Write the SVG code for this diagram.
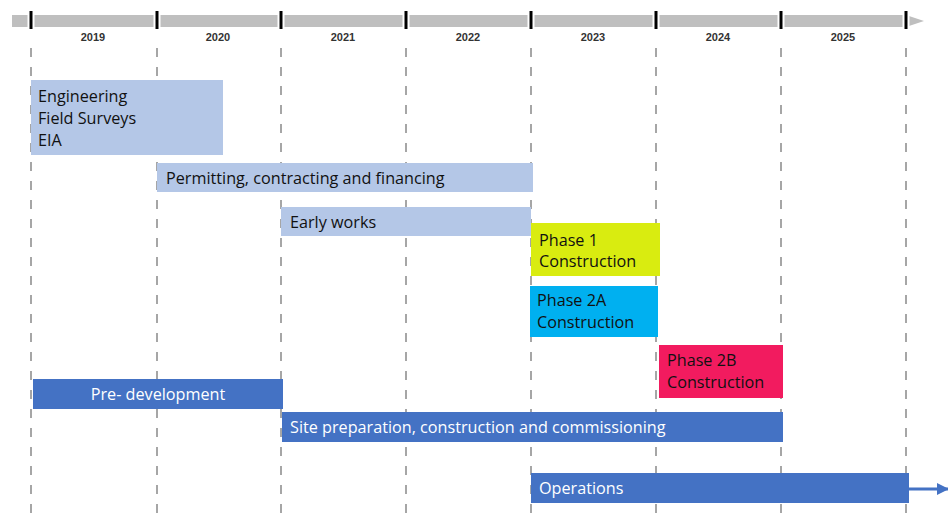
<svg xmlns="http://www.w3.org/2000/svg" width="948" height="518" viewBox="0 0 948 518">
<style>
.grid{stroke:#a6a6a6;stroke-width:2;stroke-dasharray:9 10;fill:none}
.gap{stroke:#fff;stroke-width:7}
.tick{stroke:#000;stroke-width:3}
.yr{font-family:"Liberation Sans",Arial,sans-serif;font-size:11px;font-weight:bold;fill:#333;text-anchor:middle}
.t{font-family:"Open Sans","Liberation Sans",sans-serif;font-size:16.2px;fill:#111}
.w{font-family:"Open Sans","Liberation Sans",sans-serif;font-size:16.2px;fill:#fff}
.light{fill:#b4c7e7}
.dark{fill:#4472c4}
</style>
<defs>
<marker id="arr" markerWidth="12" markerHeight="12" refX="11" refY="6" orient="auto" markerUnits="userSpaceOnUse">
<path d="M0,0 L12,6 L0,12 z" fill="#4472c4"/>
</marker>
</defs>
<g id="timeline">
<path d="M12,15 H906 L924,21 L906,27 H12 Z" fill="#bfbfbf"/>
<g class="gap">
<line x1="31" y1="14" x2="31" y2="28"/>
<line x1="157" y1="14" x2="157" y2="28"/>
<line x1="281" y1="14" x2="281" y2="28"/>
<line x1="406" y1="14" x2="406" y2="28"/>
<line x1="531" y1="14" x2="531" y2="28"/>
<line x1="656" y1="14" x2="656" y2="28"/>
<line x1="781" y1="14" x2="781" y2="28"/>
<line x1="906" y1="14" x2="906" y2="28"/>
</g>
<g class="tick">
<line x1="31" y1="11" x2="31" y2="29"/>
<line x1="157" y1="11" x2="157" y2="29"/>
<line x1="281" y1="11" x2="281" y2="29"/>
<line x1="406" y1="11" x2="406" y2="29"/>
<line x1="531" y1="11" x2="531" y2="29"/>
<line x1="656" y1="11" x2="656" y2="29"/>
<line x1="781" y1="11" x2="781" y2="29"/>
<line x1="906" y1="11" x2="906" y2="29"/>
</g>
<text class="yr" x="93" y="41">2019</text>
<text class="yr" x="218" y="41">2020</text>
<text class="yr" x="343" y="41">2021</text>
<text class="yr" x="468" y="41">2022</text>
<text class="yr" x="593" y="41">2023</text>
<text class="yr" x="718" y="41">2024</text>
<text class="yr" x="843" y="41">2025</text>
</g>
<g id="grid">
<line class="grid" x1="31" y1="48" x2="31" y2="518"/>
<line class="grid" x1="157" y1="48" x2="157" y2="518"/>
<line class="grid" x1="281" y1="48" x2="281" y2="518"/>
<line class="grid" x1="406" y1="48" x2="406" y2="518"/>
<line class="grid" x1="531" y1="48" x2="531" y2="518"/>
<line class="grid" x1="656" y1="48" x2="656" y2="518"/>
<line class="grid" x1="781" y1="48" x2="781" y2="518"/>
<line class="grid" x1="906" y1="48" x2="906" y2="518"/>
</g>
<g id="connectors">
<line x1="908" y1="489" x2="948" y2="489" stroke="#4472c4" stroke-width="3" marker-end="url(#arr)"/>
</g>
<g id="engineering">
<rect class="light" x="31" y="80" width="192" height="75"/>
<text class="t" x="38" y="102">Engineering</text>
<text class="t" x="38" y="124">Field Surveys</text>
<text class="t" x="38" y="146">EIA</text>
</g>
<g id="permitting">
<rect class="light" x="157" y="163" width="376" height="29"/>
<text class="t" x="166" y="184">Permitting, contracting and financing</text>
</g>
<g id="early-works">
<rect class="light" x="281" y="207" width="250" height="29"/>
<text class="t" x="290" y="228">Early works</text>
</g>
<g id="phase1">
<rect x="531" y="223" width="129" height="53" fill="#d9ec10"/>
<text class="t" x="539" y="246">Phase 1</text>
<text class="t" x="539" y="267">Construction</text>
</g>
<g id="phase2a">
<rect x="530" y="286" width="128" height="51" fill="#00b0f0"/>
<text class="t" x="537" y="306">Phase 2A</text>
<text class="t" x="537" y="328">Construction</text>
</g>
<g id="phase2b">
<rect x="659" y="345" width="124" height="53" fill="#f21b5f"/>
<text class="t" x="667" y="366">Phase 2B</text>
<text class="t" x="667" y="388">Construction</text>
</g>
<g id="pre-development">
<rect class="dark" x="33" y="379" width="250" height="30"/>
<text class="w" x="158" y="400" text-anchor="middle">Pre- development</text>
</g>
<g id="site-preparation">
<rect class="dark" x="282" y="412" width="501" height="30"/>
<text class="w" x="290" y="433">Site preparation, construction and commissioning</text>
</g>
<g id="operations">
<rect class="dark" x="531" y="473" width="378" height="30"/>
<text class="w" x="539" y="494">Operations</text>
</g>
</svg>
